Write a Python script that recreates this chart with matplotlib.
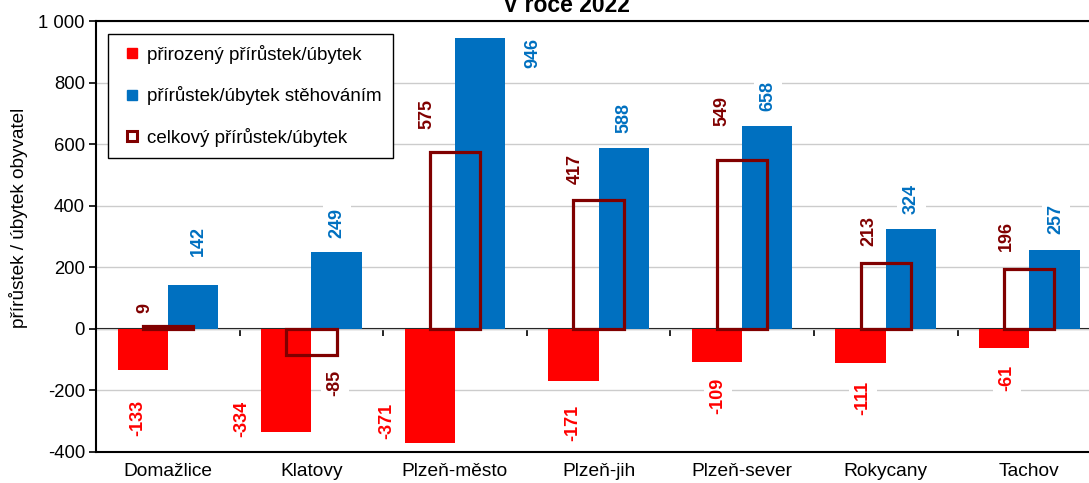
import numpy as np
import matplotlib.pyplot as plt
from matplotlib.lines import Line2D
from matplotlib.ticker import FuncFormatter

plt.rcParams['font.family'] = ['Liberation Sans', 'DejaVu Sans']

# data
districts = ['Domažlice', 'Klatovy', 'Plzeň-město', 'Plzeň-jih',
             'Plzeň-sever', 'Rokycany', 'Tachov']
natural = [-133, -334, -371, -171, -109, -111, -61]
migration = [142, 249, 946, 588, 658, 324, 257]
total = [9, -85, 575, 417, 549, 213, 196]

# label placement (category offset, y in data units) - hand tuned like the original
nat_lab_dx = [-0.21, -0.485, -0.475, -0.18, -0.17, -0.16, -0.157]
nat_lab_y = [-289, -292, -299, -305, -218, -224, -159]
mig_lab_dx = [0.21, 0.177, 0.54, 0.175, 0.18, 0.18, 0.185]
mig_lab_y = [286, 345, 897, 684, 755, 421, 356]
tot_lab_dx = [-0.16, 0.163, -0.196, -0.16, -0.14, -0.12, -0.157]
tot_lab_y = [69, -176, 697, 519, 708, 318, 302]

RED = '#ff0000'
BLUE = '#0070c0'
DARK = '#800000'

fig = plt.figure(figsize=(10.89, 4.83), dpi=100)
ax = fig.add_axes([0.0882, 0.0642, 0.9229, 0.8923])

x = np.arange(len(districts))
w = 0.35

ax.bar(x - w / 2, natural, w, color=RED, zorder=2)
ax.bar(x + w / 2, migration, w, color=BLUE, zorder=2)
ax.bar(x, total, w, facecolor='none', edgecolor=DARK, linewidth=2.3, zorder=3)

for i in range(len(districts)):
    for dx, yy, v, c in [(nat_lab_dx[i], nat_lab_y[i], natural[i], RED),
                         (mig_lab_dx[i], mig_lab_y[i], migration[i], BLUE),
                         (tot_lab_dx[i], tot_lab_y[i], total[i], DARK)]:
        ax.text(i + dx, yy, str(v), rotation=90, ha='center', va='center',
                color=c, fontsize=13, fontweight='bold', zorder=4,
                bbox=dict(facecolor='white', edgecolor='none', pad=4))

ax.set_xlim(-0.5, len(districts) - 0.5)
ax.set_ylim(-400, 1000)
ax.set_yticks(np.arange(-400, 1001, 200))
ax.yaxis.set_major_formatter(FuncFormatter(lambda v, p: f'{int(v):,}'.replace(',', ' ')))
ax.yaxis.grid(True, color='#cccccc', linewidth=1.0, zorder=0)
ax.set_axisbelow(True)
ax.tick_params(axis='y', direction='out', length=5, width=1.2, labelsize=13.3, pad=3)
ax.set_xticks(x)
ax.set_xticklabels(districts)
ax.tick_params(axis='x', length=0, labelsize=13.8, pad=8)
for s in ax.spines.values():
    s.set_linewidth(1.5)

# zero line with ticks between categories
sec = ax.secondary_xaxis(400 / 1400)
sec.set_xticks(np.arange(0.5, len(districts) - 0.5, 1.0))
sec.set_xticklabels([])
sec.tick_params(direction='out', length=5, width=1.2)
sec.spines['bottom'].set_linewidth(1.5)

ax.set_ylabel('přírůstek / úbytek obyvatel', fontsize=13.7)
ax.yaxis.set_label_coords(-0.068, 0.543)

handles = [
    Line2D([], [], marker='s', linestyle='none', color=RED, markersize=7.5),
    Line2D([], [], marker='s', linestyle='none', color=BLUE, markersize=7.5),
    Line2D([], [], marker='s', linestyle='none', markerfacecolor='white',
           markeredgecolor=DARK, markeredgewidth=2.2, markersize=7.5),
]
leg = ax.legend(handles, ['přirozený přírůstek/úbytek', 'přírůstek/úbytek stěhováním',
                          'celkový přírůstek/úbytek'],
                loc='upper left', bbox_to_anchor=(0.0119, 0.970), borderaxespad=0,
                fontsize=13.5, labelspacing=1.19, borderpad=0.59,
                handlelength=1.39, handletextpad=0.1, fancybox=False, framealpha=1)
leg.get_frame().set_edgecolor('black')
leg.get_frame().set_linewidth(1.0)
leg.set_zorder(10)

fig.text(566 / 1089, 1 - 12 / 483, 'V roce 2022', ha='center', va='baseline',
         fontsize=16.5, fontweight='bold')

fig.savefig('out.png', dpi=100)
